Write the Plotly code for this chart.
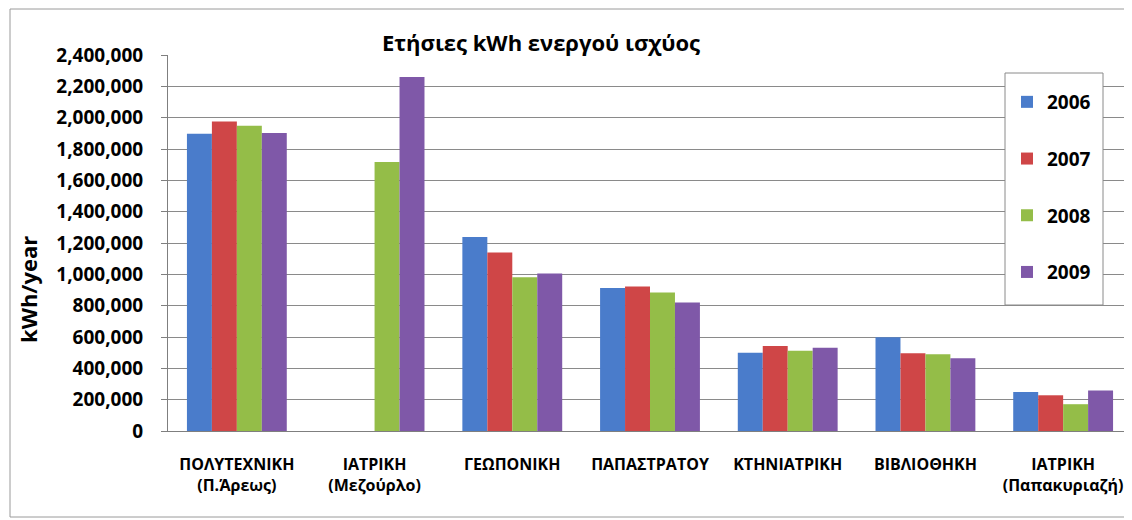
import plotly.graph_objects as go

categories = [
    "ΠΟΛΥΤΕΧΝΙΚΗ<br>(Π.Άρεως)",
    "ΙΑΤΡΙΚΗ<br>(Μεζούρλο)",
    "ΓΕΩΠΟΝΙΚΗ",
    "ΠΑΠΑΣΤΡΑΤΟΥ",
    "ΚΤΗΝΙΑΤΡΙΚΗ",
    "ΒΙΒΛΙΟΘΗΚΗ",
    "ΙΑΤΡΙΚΗ<br>(Παπακυριαζή)",
]

kwh_2006 = [1898000, 0, 1238000, 912000, 500000, 599000, 249000]
kwh_2007 = [1976000, 0, 1139000, 922000, 543000, 497000, 228000]
kwh_2008 = [1949000, 1717000, 981000, 884000, 513000, 490000, 171000]
kwh_2009 = [1902000, 2260000, 1005000, 820000, 532000, 465000, 258000]

years = ["2006", "2007", "2008", "2009"]
series = [kwh_2006, kwh_2007, kwh_2008, kwh_2009]
colors = ["#4a7ccb", "#cf4647", "#94bd48", "#7f58a8"]

FONT = "Open Sans"

# page body has an 8px margin, so the figure is made 8px smaller
OFF = 8
W, H = 1132 - OFF, 520 - OFF
# plot area in screen pixels
PL, PR, PT, PB = 168, 1132, 55, 431


def px_x(px):
    return (px - PL) / (PR - PL)


def px_y(py):
    return (PB - py) / (PB - PT)


fig = go.Figure()
for name, vals, col in zip(years, series, colors):
    fig.add_trace(
        go.Bar(
            x=categories,
            y=vals,
            name=name,
            marker=dict(color=col, line=dict(width=0)),
            legendgroup=name,
        )
    )

fig.update_layout(
    width=W,
    height=H,
    margin=dict(l=PL - OFF, r=1132 - PR, t=PT - OFF, b=520 - PB),
    paper_bgcolor="white",
    plot_bgcolor="white",
    barmode="group",
    bargap=0.275,
    bargroupgap=0,
    font=dict(family=FONT, color="black"),
    title=dict(
        text="Ετήσιες kWh ενεργού ισχύος",
        x=(541 - OFF) / W,
        xanchor="center",
        y=1 - (43 - OFF) / H,
        yanchor="middle",
        font=dict(size=22, family=FONT, weight="bold"),
    ),
    legend=dict(
        x=px_x(1007),
        xanchor="left",
        y=px_y(83),
        yanchor="top",
        bgcolor="rgba(0,0,0,0)",
        borderwidth=0,
        font=dict(size=19, family=FONT, weight="bold"),
        tracegroupgap=29,
        traceorder="grouped",
    ),
    showlegend=True,
)

fig.update_xaxes(
    automargin=False,
    showline=True,
    linecolor="#7f7f7f",
    linewidth=1,
    ticks="",
    tickfont=dict(size=16, family=FONT, weight="bold"),
    ticklabelstandoff=19,
)

fig.update_yaxes(
    automargin=False,
    range=[0, 2400000],
    dtick=200000,
    tickformat=",",
    showgrid=True,
    gridcolor="#8a8a8a",
    gridwidth=1,
    showline=True,
    linecolor="#7f7f7f",
    ticks="outside",
    ticklen=6,
    tickcolor="#7f7f7f",
    tickfont=dict(size=19, family=FONT, weight="bold"),
    ticklabelstandoff=14,
    zeroline=False,
)

# y axis title as an annotation (it sits lower than the plot centre)
fig.add_annotation(
    text="kWh/year",
    xref="paper",
    yref="paper",
    x=px_x(28),
    xanchor="center",
    y=px_y(290),
    yanchor="middle",
    textangle=-90,
    showarrow=False,
    font=dict(size=22, family=FONT, weight="bold"),
)

# legend frame
fig.add_shape(
    type="rect",
    xref="paper",
    yref="paper",
    x0=px_x(1005),
    x1=px_x(1103),
    y0=px_y(305),
    y1=px_y(73),
    line=dict(color="#8a8a8a", width=1),
    fillcolor="white",
    layer="above",
)

# outer chart border
fig.add_shape(
    type="rect",
    xref="paper",
    yref="paper",
    x0=px_x(10),
    x1=px_x(1140),
    y0=px_y(517),
    y1=px_y(9),
    line=dict(color="#9a9a9a", width=1),
    layer="below",
)

fig.write_html("out.html")
